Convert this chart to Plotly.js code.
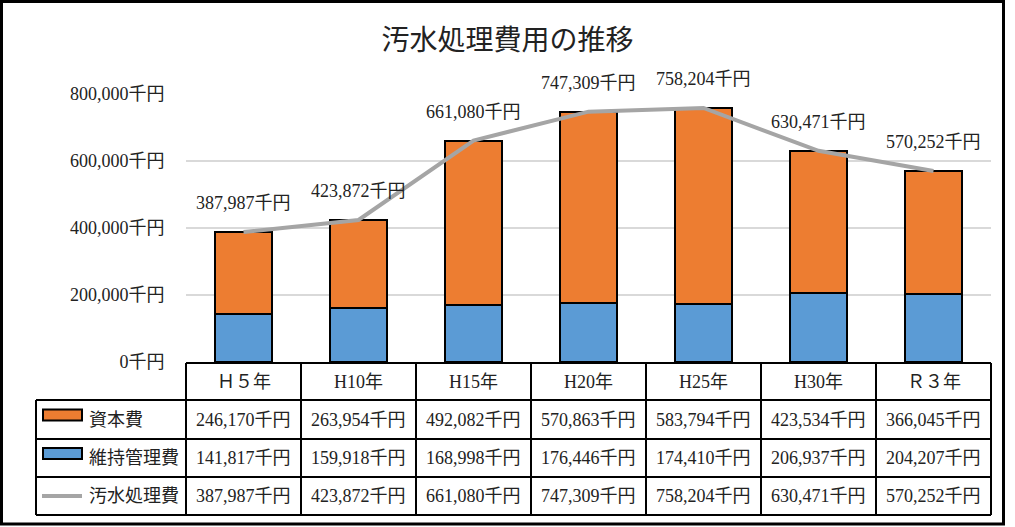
<!DOCTYPE html>
<html>
<head>
<meta charset="utf-8">
<script src="https://cdn.plot.ly/plotly-3.0.1.min.js"></script>
<style>
html,body{margin:0;padding:0;background:#fff;}
#chart{width:1015px;height:527px;}
</style>
</head>
<body>
<div id="chart"></div>
<script>
// ---- data ----
const categories = ["Ｈ５年", "H10年", "H15年", "H20年", "H25年", "H30年", "Ｒ３年"];
const capitalCost = [246170, 263954, 492082, 570863, 583794, 423534, 366045];      // 資本費
const maintenanceCost = [141817, 159918, 168998, 176446, 174410, 206937, 204207];  // 維持管理費
const totalCost = [387987, 423872, 661080, 747309, 758204, 630471, 570252];        // 汚水処理費
const seriesNames = ["資本費", "維持管理費", "汚水処理費"];
const yTicks = [0, 200000, 400000, 600000, 800000];
const unit = "千円";
const chartTitle = "汚水処理費用の推移";

// ---- style ----
const FONT = '"Liberation Serif", "Noto Sans CJK JP", serif';
const ORANGE = "#ED7D31", BLUE = "#5B9BD5", GRAY = "#A5A5A5";

// geometry (pixels) -> paper conversions
const L = 186, R = 991, T = 94, B = 362;
const px2x = X => (X - L) / (R - L);
const py2y = Y => (B - Y) / (B - T);

const fmt = v => v.toLocaleString("en-US") + unit;

const traces = [
  {type: "bar", name: seriesNames[1], x: categories, y: maintenanceCost,
   marker: {color: BLUE, line: {color: "#000", width: 2}}, width: 0.5},
  {type: "bar", name: seriesNames[0], x: categories, y: capitalCost,
   marker: {color: ORANGE, line: {color: "#000", width: 2}}, width: 0.5},
  {type: "scatter", mode: "lines", name: seriesNames[2], x: categories, y: totalCost,
   line: {color: GRAY, width: 4}, cliponaxis: false}
];

const annotations = [];
// data labels above line points
categories.forEach((c, i) => {
  annotations.push({x: c, y: totalCost[i], xref: "x", yref: "y", text: fmt(totalCost[i]),
    showarrow: false, yanchor: "bottom", yshift: 17, font: {family: FONT, size: 18, color: "#222"}});
});
// table rows
const rowCenters = [381.5, 419.5, 458, 496];
const rowsData = [capitalCost, maintenanceCost, totalCost];
categories.forEach((c, i) => {
  annotations.push({x: c, xref: "x", y: py2y(rowCenters[0]), yref: "paper", yanchor: "middle", text: c,
    showarrow: false, font: {family: FONT, size: 18, color: "#222"}});
  rowsData.forEach((arr, r) => {
    annotations.push({x: c, xref: "x", y: py2y(rowCenters[r + 1]), yref: "paper", yanchor: "middle", text: fmt(arr[i]),
      showarrow: false, font: {family: FONT, size: 18, color: "#222"}});
  });
});
// legend names in table
seriesNames.forEach((n, r) => {
  annotations.push({x: px2x(87), xref: "paper", xanchor: "left", y: py2y(rowCenters[r + 1]), yref: "paper", yanchor: "middle",
    text: n, showarrow: false, font: {family: FONT, size: 18, color: "#222"}});
});

const shapes = [];
const lineStyle = {color: "#000", width: 2};
// horizontal table lines
shapes.push({type: "line", xref: "paper", yref: "paper", x0: 0, x1: 1, y0: py2y(363), y1: py2y(363), line: lineStyle});
[400, 439, 477, 515].forEach(Y => {
  shapes.push({type: "line", xref: "paper", yref: "paper", x0: px2x(36), x1: 1, y0: py2y(Y), y1: py2y(Y), line: lineStyle});
});
// vertical table lines
shapes.push({type: "line", xref: "paper", yref: "paper", x0: px2x(36), x1: px2x(36), y0: py2y(400), y1: py2y(515), line: lineStyle});
for (let k = 0; k <= categories.length; k++) {
  const xx = k / categories.length;
  shapes.push({type: "line", xref: "paper", yref: "paper", x0: xx, x1: xx, y0: py2y(363), y1: py2y(515), line: lineStyle});
}
// legend keys
shapes.push({type: "rect", xref: "paper", yref: "paper", x0: px2x(43), x1: px2x(82), y0: py2y(409.5), y1: py2y(420.5),
  fillcolor: ORANGE, line: {color: "#000", width: 2}});
shapes.push({type: "rect", xref: "paper", yref: "paper", x0: px2x(43), x1: px2x(82), y0: py2y(448), y1: py2y(459),
  fillcolor: BLUE, line: {color: "#000", width: 2}});
shapes.push({type: "line", xref: "paper", yref: "paper", x0: px2x(42), x1: px2x(82), y0: py2y(496), y1: py2y(496),
  line: {color: GRAY, width: 4}});
// outer border
shapes.push({type: "rect", xref: "paper", yref: "paper", x0: px2x(1.5), x1: px2x(1003.5), y0: py2y(1.5), y1: py2y(524),
  line: {color: "#000", width: 3}, fillcolor: "rgba(0,0,0,0)"});

const layout = {
  width: 1015, height: 527,
  margin: {l: L, r: 1015 - R, t: T, b: 527 - B, pad: 0},
  paper_bgcolor: "#fff", plot_bgcolor: "#fff",
  barmode: "stack", bargap: 0.5, showlegend: false,
  title: {text: chartTitle, x: 0.5, xref: "container", xanchor: "center", y: 1 - 40 / 527, yanchor: "middle",
    font: {family: FONT, size: 28, color: "#222"}},
  xaxis: {type: "category", showticklabels: false, showgrid: false, zeroline: false, showline: false, fixedrange: true},
  yaxis: {range: [0, 800000], tickvals: yTicks, ticktext: yTicks.map(fmt), showgrid: true, gridcolor: "#d9d9d9", gridwidth: 1.5,
    zeroline: false, showline: false, ticks: "outside", ticklen: 17, tickcolor: "rgba(0,0,0,0)",
    tickfont: {family: FONT, size: 18, color: "#222"}, fixedrange: true},
  annotations: annotations,
  shapes: shapes
};

Plotly.newPlot("chart", traces, layout, {displayModeBar: false, staticPlot: true});
</script>
</body>
</html>
